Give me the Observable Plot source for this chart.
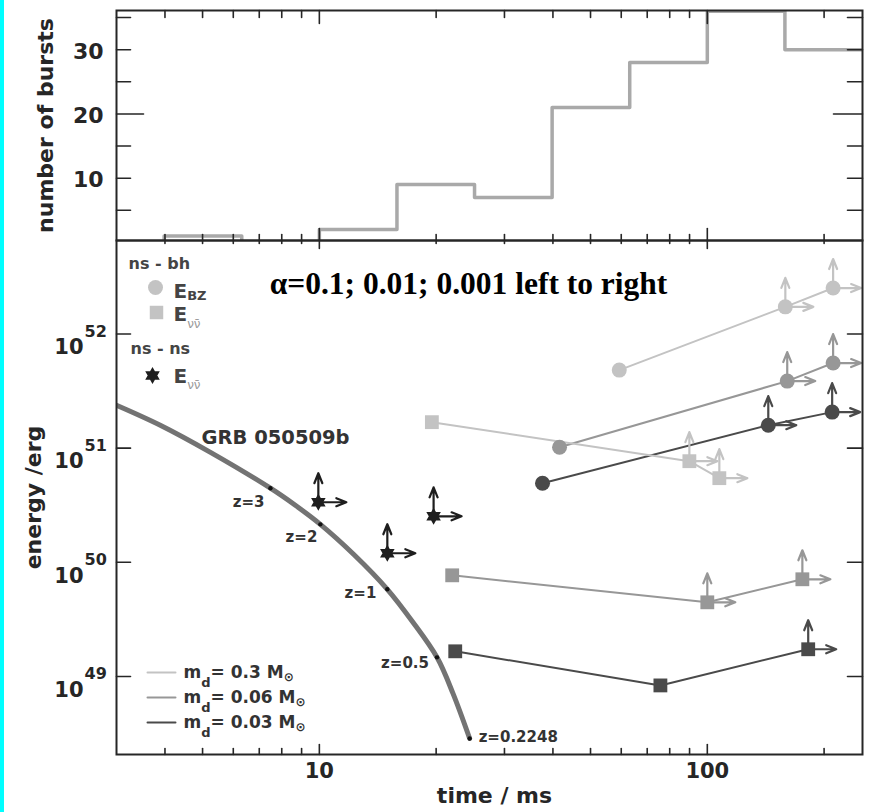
<!DOCTYPE html>
<html>
<head>
<meta charset="utf-8">
<script src="https://cdn.jsdelivr.net/npm/d3@7"></script>
<script src="https://cdn.jsdelivr.net/npm/@observablehq/plot@0.6"></script>
<style>
  html, body { margin: 0; padding: 0; background: #fff; }
  #figure { position: relative; width: 872px; height: 812px; background: #fff; overflow: hidden; }
  #edge { position: absolute; left: 0; top: 0; width: 4px; height: 812px; background: #00ffff; }
  #hist, #energy { position: absolute; left: 0; }
  #hist { top: 0; }
  #energy { top: 238px; }
</style>
</head>
<body>
<div id="figure"><div id="edge"></div><div id="hist"></div><div id="energy"></div></div>
<script>
// ---------------- data ----------------
// Duration histogram of short bursts: bin edges (ms) and counts per bin
const binEdges = [3.98, 6.31, 10, 15.85, 25.12, 39.81, 63.1, 100, 158.5, 251.2];
const burstCounts = [1, 0, 2, 9, 7, 21, 28, 36, 30];

// Disk masses (solar masses) of the ns-bh models
const diskMasses = ["0.3", "0.06", "0.03"];
const diskColors = ["#c3c3c3", "#979797", "#4a4a4a"];

// ns-bh, Blandford-Znajek energy (alpha = 0.1, 0.01, 0.001 left to right)
const bzTime = [[59.3, 158.9, 211], [41.6, 160.7, 211], [37.6, 143.6, 209.8]];
const bzEnergy = [[4.83e51, 1.73e52, 2.53e52], [1.02e51, 3.87e51, 5.57e51], [4.93e50, 1.59e51, 2.07e51]];
const bzLowerLimit = [[false, true, true], [false, true, true], [false, true, true]];

// ns-bh, neutrino-antineutrino annihilation energy
const nuTime = [[19.5, 89.9, 107.4], [22.0, 100, 175.8], [22.4, 75.7, 182]];
const nuEnergy = [[1.69e51, 7.69e50, 5.46e50], [7.69e49, 4.46e49, 7.1e49], [1.66e49, 8.34e48, 1.73e49]];
const nuLowerLimit = [[false, true, true], [false, true, true], [false, false, true]];

// ns-ns, neutrino-antineutrino annihilation energy (lower limits)
const nsnsTime = [9.94, 14.97, 19.7];
const nsnsEnergy = [3.36e50, 1.2e50, 2.53e50];

// GRB 050509b: energy against duration for a range of redshifts
const grbTime = [3.0, 3.89, 5.24, 7.48, 8.67, 10.06, 12.27, 14.97, 17.37, 20.1, 22.1, 24.4];
const grbEnergy = [2.38e51, 1.59e51, 9.2e50, 4.46e50, 3.16e50, 2.15e50, 1.17e50, 5.8e49, 3.03e49, 1.47e49, 7.1e48, 2.86e48];
const redshiftLabels = ["z=3", "z=2", "z=1", "z=0.5", "z=0.2248"];
const redshiftTime = [7.48, 10.06, 14.97, 20.1, 24.4];
const redshiftEnergy = [4.46e50, 2.15e50, 5.8e49, 1.47e49, 2.86e48];

// tick values
const timeMajor = [10, 100];
const timeMinor = [4, 5, 6, 7, 8, 9, 20, 30, 40, 50, 60, 70, 80, 90, 200];
const countMajor = [20];
const countMinor = [5, 10, 15, 25, 30, 35];
const countLabels = [10, 20, 30];
const energyExponents = [49, 50, 51, 52];

// ---------------- styling helpers ----------------
const SANS = "DejaVu Sans";
const INK = "#262626";

const tickLine = { draw(c, l) { c.moveTo(0, 0); c.lineTo(0, -l); } };
const limitArrow = {
  draw(c, l) {
    c.moveTo(0, 0); c.lineTo(0, -l);
    c.moveTo(-4, -l + 10); c.lineTo(0, -l); c.lineTo(4, -l + 10);
  }
};
// six-pointed star: two overlapping triangles
const hexagram = {
  draw(c, size) {
    const r = Math.sqrt(size / Math.PI) * 1.05;
    for (const off of [-Math.PI / 2, Math.PI / 2]) {
      for (let k = 0; k < 3; k++) {
        const a = off + k * 2 * Math.PI / 3;
        if (k) c.lineTo(r * Math.cos(a), r * Math.sin(a)); else c.moveTo(r * Math.cos(a), r * Math.sin(a));
      }
      c.closePath();
    }
  }
};

function ticks(values, channel, frameAnchor, rotate, length) {
  return Plot.vector(values, {
    [channel]: d => d, frameAnchor, rotate, length, anchor: "start",
    shape: tickLine, stroke: INK, strokeWidth: 1.6
  });
}

// text centred vertically on its anchor, in the sans face unless told otherwise
function label(data, options) {
  return Plot.text(data, {lineAnchor: "middle", fontFamily: SANS, fontWeight: "bold", fill: INK, ...options});
}

const measureCtx = document.createElement("canvas").getContext("2d");
function textWidth(text, size, weight) {
  measureCtx.font = `${weight} ${size}px "${SANS}"`;
  return measureCtx.measureText(text).width;
}
// a run of text pieces, some lowered as subscripts; baseline is relative to the frame anchor
function richText(parts, {frameAnchor, dx, baseline, fill = INK}) {
  let x = dx;
  return parts.map(p => {
    const weight = p.weight ?? "bold";
    const mark = label([p.text], {
      frameAnchor, text: d => d, textAnchor: "start",
      dx: x, dy: baseline + (p.shift ?? 0) - 0.32 * p.size,
      fontSize: p.size, fontWeight: weight, fill: p.fill ?? fill
    });
    x += textWidth(p.text, p.size, weight);
    return mark;
  });
}

// ---------------- rows ----------------
const histRows = [{t: binEdges[0], n: 0}]
  .concat(burstCounts.map((n, i) => ({t: binEdges[i], n})))
  .concat([{t: binEdges[binEdges.length - 1], n: burstCounts[burstCounts.length - 1]}]);

const bzRows = [], nuRows = [];
diskMasses.forEach((m, i) => {
  bzTime[i].forEach((t, j) => bzRows.push({mass: m, t, E: bzEnergy[i][j], limit: bzLowerLimit[i][j]}));
  nuTime[i].forEach((t, j) => nuRows.push({mass: m, t, E: nuEnergy[i][j], limit: nuLowerLimit[i][j]}));
});
const limitRows = bzRows.concat(nuRows).filter(d => d.limit);
const nsnsRows = nsnsTime.map((t, j) => ({t, E: nsnsEnergy[j]}));
const grbRows = grbTime.map((t, j) => ({t, E: grbEnergy[j]}));
const zRows = redshiftLabels.map((text, j) => ({text, t: redshiftTime[j], E: redshiftEnergy[j]}));
const zLabelPlacement = [[-6, 14, "end"], [-3, 13, "end"], [-11, 4, "end"], [-8, 6, "end"], [9, -1, "start"]];

// ---------------- top panel: number of bursts ----------------
const hist = Plot.plot({
  width: 872, height: 242,
  marginLeft: 116, marginRight: 10, marginTop: 10, marginBottom: 2,
  style: {background: "transparent", overflow: "visible"},
  x: {type: "log", domain: [3, 251.2], axis: null},
  y: {domain: [0.3, 36.1], axis: null},
  marks: [
    Plot.line(histRows, {x: "t", y: "n", curve: "step-after", stroke: "#a9a9a9", strokeWidth: 3.5, clip: true}),
    Plot.frame({stroke: INK, strokeWidth: 2}),
    ticks(timeMinor, "x", "top", 180, 7),
    ticks(timeMajor, "x", "top", 180, 13),
    ticks(timeMinor, "x", "bottom", 0, 6),
    ticks(timeMajor, "x", "bottom", 0, 12),
    ticks(countMinor, "y", "left", 90, 14),
    ticks(countMajor, "y", "left", 90, 27),
    ticks(countMinor, "y", "right", -90, 15),
    ticks(countMajor, "y", "right", -90, 29),
    label(countLabels, {y: d => d, frameAnchor: "left", dx: -13, dy: 2, textAnchor: "end",
      text: d => String(d), fontSize: 22}),
    label(["number of bursts"], {frameAnchor: "left", dx: -71, rotate: -90, textAnchor: "middle", fontSize: 22})
  ]
});
document.getElementById("hist").append(hist);

// ---------------- bottom panel: energy vs time ----------------
const energy = Plot.plot({
  width: 872, height: 574,
  marginLeft: 116, marginRight: 10, marginTop: 2, marginBottom: 58,
  style: {background: "transparent", overflow: "visible"},
  x: {type: "log", domain: [3, 251.2], axis: null},
  y: {type: "log", domain: [2.07e48, 6.6e52], axis: null},
  color: {domain: diskMasses, range: diskColors},
  marks: [
    // GRB 050509b track
    Plot.line(grbRows, {x: "t", y: "E", curve: "catmull-rom", stroke: "#737373", strokeWidth: 5, clip: true}),
    Plot.dot(zRows, {x: "t", y: "E", r: 2.2, fill: "#111"}),
    ...zRows.map((d, j) => label([d], {x: "t", y: "E", text: "text",
      dx: zLabelPlacement[j][0], dy: zLabelPlacement[j][1], textAnchor: zLabelPlacement[j][2],
      fontSize: 15, fill: "#333"})),

    // model sequences
    Plot.line(bzRows, {x: "t", y: "E", z: "mass", stroke: "mass", strokeWidth: 2}),
    Plot.line(nuRows, {x: "t", y: "E", z: "mass", stroke: "mass", strokeWidth: 2}),

    // lower-limit arrows
    Plot.vector(limitRows, {x: "t", y: "E", rotate: 0, length: 29, anchor: "start", shape: limitArrow, stroke: "mass", strokeWidth: 2.2}),
    Plot.vector(limitRows, {x: "t", y: "E", rotate: 90, length: 28, anchor: "start", shape: limitArrow, stroke: "mass", strokeWidth: 2.2}),
    Plot.vector(nsnsRows, {x: "t", y: "E", rotate: 0, length: 29, anchor: "start", shape: limitArrow, stroke: "#1e1e1e", strokeWidth: 2.2}),
    Plot.vector(nsnsRows, {x: "t", y: "E", rotate: 90, length: 28, anchor: "start", shape: limitArrow, stroke: "#1e1e1e", strokeWidth: 2.2}),

    // markers
    Plot.dot(bzRows, {x: "t", y: "E", r: 7.5, fill: "mass", symbol: "circle"}),
    Plot.dot(nuRows, {x: "t", y: "E", r: 7.8, fill: "mass", symbol: "square"}),
    Plot.dot(nsnsRows, {x: "t", y: "E", r: 8, fill: "#1e1e1e", symbol: hexagram}),

    // annotations
    label(["GRB 050509b"], {frameAnchor: "top-left", dx: 85, dy: 203 - 0.32 * 19.5, textAnchor: "start",
      fontSize: 19.5, fill: "#333"}),
    label(["α=0.1; 0.01; 0.001 left to right"], {frameAnchor: "top-left", dx: 352, dy: 53 - 0.32 * 31.5,
      textAnchor: "middle", fontSize: 31.5, fontFamily: "Liberation Serif", fill: "#000"}),

    // symbol legend
    label(["ns - bh"], {frameAnchor: "top-left", dx: 12, dy: 28 - 0.32 * 16, textAnchor: "start",
      fontSize: 16, fill: "#444"}),
    Plot.dot([0], {frameAnchor: "top-left", dx: 39, dy: 47, r: 7.5, fill: diskColors[0], symbol: "circle"}),
    ...richText([{text: "E", size: 20}, {text: "BZ", size: 13, shift: 2}],
      {frameAnchor: "top-left", dx: 57, baseline: 57, fill: "#444"}),
    Plot.dot([0], {frameAnchor: "top-left", dx: 40, dy: 72, r: 7.6, fill: diskColors[0], symbol: "square"}),
    ...richText([{text: "E", size: 20}, {text: "νν̄", size: 12, shift: 7, weight: "normal", fill: "#999"}],
      {frameAnchor: "top-left", dx: 57, baseline: 80, fill: "#444"}),
    label(["ns - ns"], {frameAnchor: "top-left", dx: 14, dy: 113 - 0.32 * 16, textAnchor: "start",
      fontSize: 16, fill: "#444"}),
    Plot.dot([0], {frameAnchor: "top-left", dx: 36, dy: 135, r: 8, fill: "#1e1e1e", symbol: hexagram}),
    ...richText([{text: "E", size: 20}, {text: "νν̄", size: 12, shift: 6, weight: "normal", fill: "#999"}],
      {frameAnchor: "top-left", dx: 57, baseline: 142, fill: "#444"}),

    // disk-mass legend
    ...diskMasses.flatMap((m, i) => [
      Plot.vector([0], {frameAnchor: "bottom-left", dx: 31, dy: -82 + 25 * i, rotate: 90, length: 28,
        anchor: "start", shape: tickLine, stroke: diskColors[i], strokeWidth: 2}),
      ...richText([
        {text: "m", size: 17}, {text: "d", size: 13, shift: 9},
        {text: `= ${m} M`, size: 17}, {text: "⊙", size: 12, shift: 3}
      ], {frameAnchor: "bottom-left", dx: 67, baseline: -77 + 25 * i, fill: "#333"})
    ]),

    Plot.frame({stroke: INK, strokeWidth: 2}),
    ticks(timeMinor, "x", "top", 180, 3),
    ticks(timeMajor, "x", "top", 180, 8),
    ticks(timeMinor, "x", "bottom", 0, 6),
    ticks(timeMajor, "x", "bottom", 0, 10),
    ticks(energyExponents.map(e => Math.pow(10, e)), "y", "left", 90, 14),
    ticks(energyExponents.map(e => Math.pow(10, e)), "y", "right", -90, 15),

    // axis labels
    label(timeMajor, {x: d => d, frameAnchor: "bottom", dy: 16.5, text: d => String(d), fontSize: 21}),
    label(energyExponents, {y: e => Math.pow(10, e), frameAnchor: "left", dx: -33, dy: 13.5,
      textAnchor: "end", text: () => "10", fontSize: 21}),
    label(energyExponents, {y: e => Math.pow(10, e), frameAnchor: "left", dx: -32, dy: -2.5,
      textAnchor: "start", text: e => String(e), fontSize: 16}),
    label(["time / ms"], {frameAnchor: "bottom", dx: 5, dy: 41, textAnchor: "middle", fontSize: 22}),
    label(["energy /erg"], {frameAnchor: "left", dx: -83, rotate: -90, textAnchor: "middle", fontSize: 22})
  ]
});
document.getElementById("energy").append(energy);
</script>
</body>
</html>
